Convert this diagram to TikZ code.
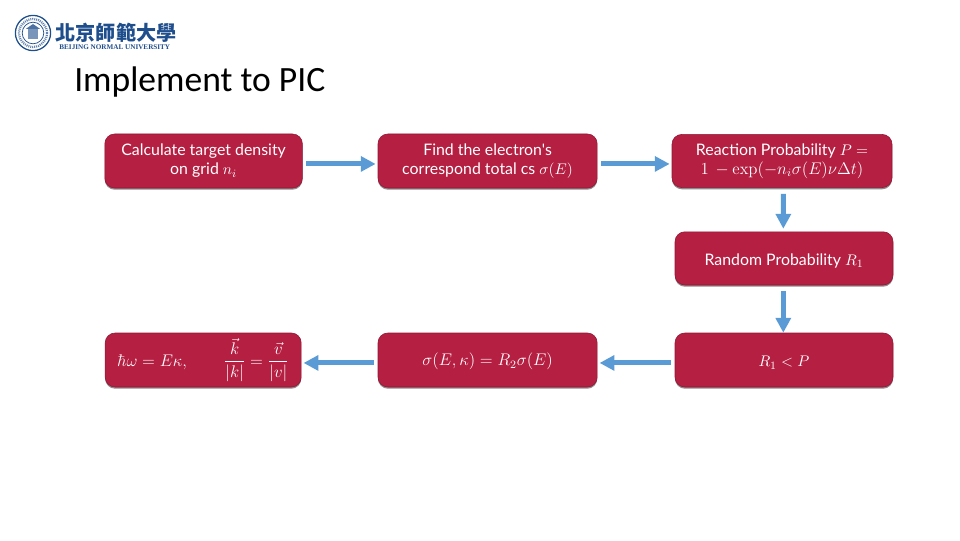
\documentclass[tikz,border=0pt]{standalone}
\usepackage{amsmath}
\usepackage[no-math]{fontspec}
\setmainfont{Carlito}
\newfontfamily\boxfont{Lato}
\newfontfamily\cjkfont{Noto Sans CJK TC}
\newfontfamily\logofont{Liberation Serif}
\usetikzlibrary{arrows.meta,shadows}
\definecolor{boxred}{HTML}{B41F42}
\definecolor{flowblue}{HTML}{5B9BD5}
\definecolor{logoblue}{HTML}{1F4E8C}
\newcommand{\mathsize}{\fontsize{12}{13.5}\selectfont}
\tikzset{
  stepbox/.style={draw=boxred!80!black,line width=.4pt,fill=boxred,rounded corners=7pt,text=white,align=center,
    inner sep=0pt,font=\boxfont\fontsize{11.3}{13.5}\selectfont,execute at begin node={\rule{0pt}{11.5pt}},
    drop shadow={shadow xshift=0pt,shadow yshift=-1.2pt,opacity=.45,fill=black}},
  flow/.style={draw=flowblue,line width=3.5pt,-{Triangle[length=10.5pt,width=10.5pt]},shorten <=2.5pt,shorten >=1.5pt}
}
\begin{document}
\begin{tikzpicture}

        \useasboundingbox (0,0) rectangle (24,13.5);

        % logo
        \draw[logoblue,line width=.9pt] (.825,12.675) circle (.44);
        \draw[logoblue!70,line width=1.6pt,dash pattern=on .7pt off .7pt] (.825,12.675) circle (.35);
        \draw[logoblue,line width=.5pt] (.825,12.675) circle (.27);
        \fill[logoblue!60] (.69,12.53) rectangle (.96,12.78);
        \fill[logoblue!80] (.65,12.78) -- (.825,12.9) -- (1,12.78) -- cycle;
        \node[text=logoblue,inner sep=0pt] (logoname) at (2.9,12.68) {\cjkfont\bfseries\fontsize{14.3}{14.3}\selectfont 北京師範大學};
        \node[text=logoblue,inner sep=0pt] (logoline) at (2.87,12.31) {\logofont\bfseries\fontsize{5.1}{5.1}\selectfont BEIJING NORMAL UNIVERSITY};

        \node[anchor=west,inner sep=0pt] (title) at (1.85,11.44) {\fontsize{25.3}{25.3}\selectfont Implement to PIC};

        \begin{scope}[every node/.style={stepbox}]
          \node[minimum width=4.94cm,minimum height=1.35cm] (density) at (5.09,9.475) {Calculate target density\\on grid $n_i$};
          \node[minimum width=5.48cm,minimum height=1.35cm] (total) at (12.19,9.475) {Find the electron's\\correspond total cs $\sigma(E)$};
          \node[minimum width=5.5cm,minimum height=1.33cm] (react) at (19.55,9.475) {Reaction Probability $P=$\\\mathsize$1\,-\exp(-n_i\sigma(E)\nu\Delta t)$};
          \node[minimum width=5.45cm,minimum height=1.33cm] (rand) at (19.6,7.04) {Random Probability $R_1$};
          \node[minimum width=5.45cm,minimum height=1.35cm] (check) at (19.6,4.5) {$R_1<P$};
          \node[minimum width=5.48cm,minimum height=1.35cm] (split) at (12.19,4.5) {\mathsize$\sigma(E,\kappa)=R_2\sigma(E)$};
          \node[minimum width=4.9cm,minimum height=1.35cm] (final) at (5.08,4.5) {\mathsize$\hbar\omega=E\kappa,\qquad\dfrac{\vec{k}}{|k|}=\dfrac{\vec{v}}{|v|}$};
        \end{scope}

        \begin{scope}[every edge/.style={flow}]
          \path ([yshift=-2.1pt]density.east) edge ([yshift=-2.1pt]total.west);
          \path ([yshift=-2.1pt]total.east) edge ([yshift=-2.1pt]react.west);
          \path ([xshift=1pt]react.south) edge[shorten <=4.2pt,shorten >=2pt] ([xshift=-.5pt]rand.north);
          \path ([xshift=-.5pt]rand.south) edge[shorten <=4.2pt,shorten >=0pt] ([xshift=-.5pt]check.north);
          \path ([yshift=-2.1pt]check.west) edge ([yshift=-2.1pt]split.east);
          \path ([yshift=-2.1pt]split.west) edge ([yshift=-2.1pt]final.east);
        \end{scope}

      \end{tikzpicture}
\end{document}
